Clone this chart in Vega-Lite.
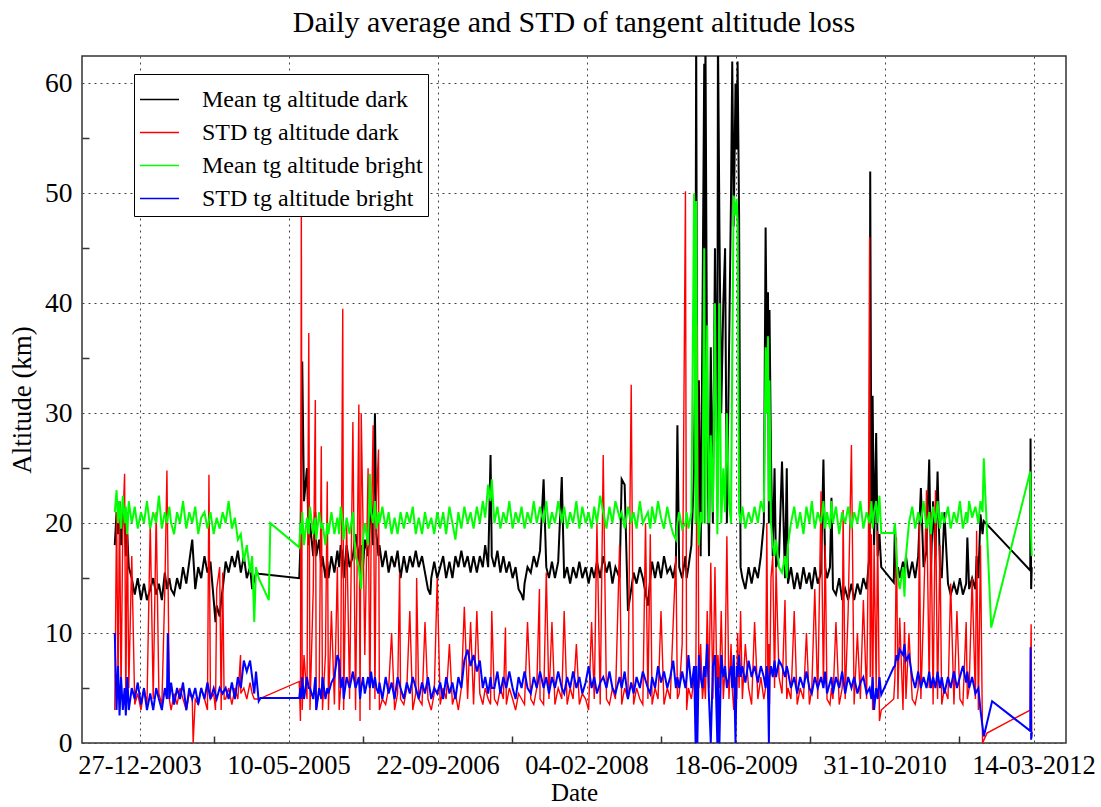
{
"$schema":"https://vega.github.io/schema/vega-lite/v6.json",
"width":984,"height":687,
"autosize":{"type":"none"},
"padding":{"left":82,"top":56,"right":35,"bottom":64},
"background":"white",
"title":{"text":"Daily average and STD of tangent altitude loss","font":"Liberation Serif","fontSize":30,"fontWeight":"normal","color":"#000","anchor":"middle","baseline":"alphabetic","offset":23,"dy":29},
"data":{"values":[
{"d":"2003-10-05","k":18,"r":3,"g":21,"b":10},
{"d":"2003-10-11","k":21,"r":21,"g":23,"b":3},
{"d":"2003-10-16","k":19,"r":5,"g":20,"b":7},
{"d":"2003-10-21","k":22,"r":22,"g":22,"b":2.5},
{"d":"2003-10-26","k":18,"r":4,"g":19.5,"b":6},
{"d":"2003-11-01","k":21,"r":20,"g":22.5,"b":3},
{"d":"2003-11-07","k":20,"r":24.5,"g":20,"b":5},
{"d":"2003-11-11","k":17,"r":3,"g":21.5,"b":2.5},
{"d":"2003-11-16","k":19,"r":21,"g":19,"b":6},
{"d":"2003-11-21","k":16,"r":5,"g":22,"b":3},
{"d":"2003-12-01","k":15,"r":17,"g":20,"b":5},
{"d":"2003-12-11","k":13.5,"r":3.5,"g":21.5,"b":4},
{"d":"2003-12-21","k":15,"r":4.5,"g":19.5,"b":5.5},
{"d":"2004-01-01","k":13,"r":3,"g":21,"b":3.5},
{"d":"2004-01-11","k":14.5,"r":5,"g":20,"b":5},
{"d":"2004-01-21","k":13,"r":3.5,"g":22,"b":3},
{"d":"2004-02-01","k":14,"r":20,"g":19.5,"b":4.5},
{"d":"2004-02-11","k":15,"r":4,"g":21,"b":3},
{"d":"2004-02-21","k":13.5,"r":21,"g":20,"b":5},
{"d":"2004-03-01","k":14.5,"r":4.5,"g":22.5,"b":4},
{"d":"2004-03-11","k":13,"r":3.5,"g":19.5,"b":3},
{"d":"2004-03-21","k":15.5,"r":14,"g":21,"b":5},
{"d":"2004-03-28","k":14,"r":24.8,"g":20,"b":4},
{"d":"2004-03-31","b":10},
{"d":"2004-04-05","k":15,"r":4,"g":21.5,"b":4},
{"d":"2004-04-11","k":14,"r":3,"g":20,"b":5.5},
{"d":"2004-04-21","k":13.5,"r":4.5,"g":19,"b":3.5},
{"d":"2004-05-01","k":15,"r":3.5,"g":21,"b":5},
{"d":"2004-05-11","k":14,"r":5,"g":20,"b":4},
{"d":"2004-05-21","k":16,"r":4,"g":22,"b":5.5},
{"d":"2004-06-01","k":14.5,"r":3,"g":19.5,"b":3},
{"d":"2004-06-11","k":16.5,"r":4.5,"g":21,"b":5},
{"d":"2004-06-21","k":18.5,"r":4,"g":20,"b":4},
{"d":"2004-06-24","r":0},
{"d":"2004-07-01","k":14,"r":4,"g":21.5,"b":5},
{"d":"2004-07-11","k":16,"r":3.5,"g":19,"b":3.5},
{"d":"2004-07-21","k":15,"r":5,"g":20.5,"b":5},
{"d":"2004-08-01","k":17,"r":4,"g":21,"b":4},
{"d":"2004-08-11","k":15.5,"r":3,"g":19.5,"b":5.5},
{"d":"2004-08-16","r":24.4},
{"d":"2004-08-21","k":16.5,"r":4,"g":21,"b":4},
{"d":"2004-09-01","k":13,"r":4.5,"g":19,"b":5},
{"d":"2004-09-07","k":11,"r":3},
{"d":"2004-09-11","k":12.5,"r":14,"g":20.5,"b":4},
{"d":"2004-09-21","k":11.5,"r":16,"g":19.5,"b":5},
{"d":"2004-09-26","k":13,"r":3},
{"d":"2004-10-01","k":14,"r":15.5,"g":21,"b":4.5},
{"d":"2004-10-06","r":4},
{"d":"2004-10-11","k":16.5,"r":4,"g":20,"b":5},
{"d":"2004-10-21","k":15.5,"r":5,"g":22,"b":4},
{"d":"2004-11-01","k":17,"r":3.5,"g":19.5,"b":5.5},
{"d":"2004-11-11","k":16,"r":5,"g":20.5,"b":4},
{"d":"2004-11-21","k":17.5,"r":4,"g":18.5,"b":6},
{"d":"2004-11-30","r":8},
{"d":"2004-12-01","k":15.5,"r":4.5,"g":19,"b":5},
{"d":"2004-12-11","k":17,"r":5,"g":16.5,"b":7.5},
{"d":"2004-12-21","k":15,"r":4,"g":18,"b":6.5},
{"d":"2005-01-01","k":16,"r":5.5,"g":15.5,"b":7.5},
{"d":"2005-01-08","k":14,"r":4.5,"g":17,"b":6},
{"d":"2005-01-15","r":4,"g":11,"b":4.5},
{"d":"2005-01-21","k":15.5,"g":16,"b":6.5},
{"d":"2005-01-30","k":15.4,"r":4,"g":15,"b":3.8},
{"d":"2005-02-05","b":4.1},
{"d":"2005-03-05","g":13},
{"d":"2005-03-10","g":20},
{"d":"2005-06-15","k":15,"r":5.6,"g":17.8,"b":4.1},
{"d":"2005-06-19","k":18,"r":2,"g":20,"b":5},
{"d":"2005-06-22","k":26,"r":49,"g":19,"b":4},
{"d":"2005-06-25","k":34.7,"r":3,"g":21,"b":6},
{"d":"2005-07-01","k":22,"r":8,"g":18,"b":4},
{"d":"2005-07-11","k":25,"r":4,"g":20.5,"b":6},
{"d":"2005-07-17","k":18,"r":37.3,"g":19,"b":5},
{"d":"2005-07-21","k":20,"r":3,"g":21.5,"b":5},
{"d":"2005-08-01","k":17,"r":14,"g":19,"b":4},
{"d":"2005-08-08","k":21,"r":31.2,"g":20.5,"b":6},
{"d":"2005-08-11","k":17,"r":3,"g":18.5,"b":3},
{"d":"2005-08-21","k":18.5,"r":5,"g":21,"b":5},
{"d":"2005-08-28","k":16,"r":27,"g":19.5,"b":4},
{"d":"2005-09-01","k":17,"r":3,"g":20,"b":6},
{"d":"2005-09-11","k":15,"r":8,"g":18,"b":4},
{"d":"2005-09-17","k":16.5,"r":23.8,"g":20,"b":5},
{"d":"2005-09-21","k":15,"r":3,"g":19,"b":4.5},
{"d":"2005-10-01","k":17,"r":12,"g":21,"b":5.5},
{"d":"2005-10-11","k":15.5,"r":3.5,"g":19,"b":6},
{"d":"2005-10-21","k":17.5,"r":16,"g":20.5,"b":8},
{"d":"2005-10-27","k":16,"r":3,"g":19,"b":7.5},
{"d":"2005-11-01","k":18,"r":5,"g":21.5,"b":5},
{"d":"2005-11-08","k":17,"r":39.5,"g":20,"b":6},
{"d":"2005-11-11","k":15,"r":3,"g":18.5,"b":4},
{"d":"2005-11-21","k":18,"r":20,"g":20.5,"b":6},
{"d":"2005-12-01","k":16,"r":4,"g":19,"b":5},
{"d":"2005-12-12","k":17,"r":29.2,"g":21,"b":6.5},
{"d":"2005-12-21","k":19,"r":3,"g":17,"b":5},
{"d":"2006-01-01","k":17,"r":30.8,"g":16,"b":6},
{"d":"2006-01-05","k":16,"r":2,"g":15,"b":4},
{"d":"2006-01-09","k":18,"r":30,"g":14,"b":5},
{"d":"2006-01-15","k":16,"r":20,"g":18.5,"b":6},
{"d":"2006-01-21","k":18.5,"r":8,"g":20,"b":4.5},
{"d":"2006-02-01","k":17,"r":25,"g":18,"b":6},
{"d":"2006-02-07","k":20,"r":3,"g":24.5,"b":5},
{"d":"2006-02-11","k":22,"r":18,"g":21,"b":6.5},
{"d":"2006-02-18","k":18,"r":28.9,"g":20,"b":5},
{"d":"2006-02-24","k":30,"r":4,"g":22,"b":6},
{"d":"2006-03-01","k":19,"r":22,"g":19.5,"b":5},
{"d":"2006-03-08","k":17,"r":26.7,"g":21,"b":4.5},
{"d":"2006-03-11","k":18,"r":3,"g":20,"b":5.5},
{"d":"2006-03-21","k":16,"r":4,"g":21.5,"b":4},
{"d":"2006-04-01","k":17.5,"r":3.5,"g":19.5,"b":6},
{"d":"2006-04-11","k":15.5,"r":5,"g":21,"b":4.5},
{"d":"2006-04-21","k":17,"r":10,"g":19,"b":5.5},
{"d":"2006-05-01","k":16,"r":3,"g":20.5,"b":4},
{"d":"2006-05-11","k":17.5,"r":4.5,"g":19,"b":6},
{"d":"2006-05-18","r":15.5},
{"d":"2006-05-21","k":15,"r":4,"g":21,"b":5},
{"d":"2006-06-01","k":17,"r":3.5,"g":19.5,"b":4},
{"d":"2006-06-11","k":15.5,"r":5,"g":21,"b":5.5},
{"d":"2006-06-21","k":17,"r":12,"g":20,"b":4.5},
{"d":"2006-07-01","k":16,"r":3,"g":21.5,"b":6},
{"d":"2006-07-11","k":17.5,"r":4.5,"g":19,"b":5},
{"d":"2006-07-14","r":15},
{"d":"2006-07-21","k":16,"r":4,"g":20.5,"b":4},
{"d":"2006-08-01","k":17,"r":3.5,"g":19,"b":5.5},
{"d":"2006-08-11","k":15.5,"r":11,"g":21,"b":4.5},
{"d":"2006-08-21","k":14,"r":4,"g":19.5,"b":6},
{"d":"2006-08-29","k":13.5},
{"d":"2006-09-01","k":15,"r":3,"g":20.5,"b":4},
{"d":"2006-09-11","k":16.5,"r":4.5,"g":19,"b":5},
{"d":"2006-09-21","k":15,"r":15,"g":21,"b":4.5},
{"d":"2006-10-01","k":16,"r":3.5,"g":19.5,"b":5.5},
{"d":"2006-10-11","k":17,"r":5,"g":21,"b":4},
{"d":"2006-10-21","k":15,"r":4,"g":19,"b":6},
{"d":"2006-11-01","k":16.5,"r":9,"g":21.5,"b":4.5},
{"d":"2006-11-11","k":15,"r":3.5,"g":20,"b":5.5},
{"d":"2006-11-21","k":17,"r":4.5,"g":18.5,"b":4},
{"d":"2006-12-01","k":16,"r":3,"g":21,"b":6},
{"d":"2006-12-11","k":17.5,"r":5,"g":19.5,"b":5},
{"d":"2006-12-21","k":16,"r":12.4,"g":21.5,"b":7.5},
{"d":"2007-01-01","k":17,"r":4,"g":20,"b":8.5},
{"d":"2007-01-11","k":15.5,"r":11,"g":21,"b":7},
{"d":"2007-01-21","k":17,"r":3.5,"g":19.5,"b":8},
{"d":"2007-02-01","k":15.5,"r":12,"g":21.5,"b":6.5},
{"d":"2007-02-11","k":17,"r":4.5,"g":20,"b":7.5},
{"d":"2007-02-21","k":16,"r":3.5,"g":22,"b":5},
{"d":"2007-03-01","k":18,"r":5,"g":20.5,"b":6},
{"d":"2007-03-11","k":16,"r":4,"g":23.5,"b":4.5},
{"d":"2007-03-19","k":26.2,"r":3.5,"g":22,"b":6},
{"d":"2007-03-23","k":17,"r":12,"g":24,"b":5},
{"d":"2007-04-01","k":16,"r":4,"g":20,"b":5},
{"d":"2007-04-11","k":17.5,"r":3.5,"g":21.5,"b":6.5},
{"d":"2007-04-21","k":15.5,"r":5,"g":19.5,"b":4.5},
{"d":"2007-05-01","k":17,"r":4,"g":21,"b":6},
{"d":"2007-05-08","r":10.5},
{"d":"2007-05-11","k":15.5,"r":3.5,"g":20,"b":5},
{"d":"2007-05-21","k":16.5,"r":5,"g":22,"b":6.5},
{"d":"2007-06-01","k":15,"r":4,"g":19.5,"b":5},
{"d":"2007-06-11","k":16,"r":3,"g":21,"b":4},
{"d":"2007-06-21","k":14,"r":4.5,"g":20,"b":6},
{"d":"2007-07-01","k":13.5,"r":4,"g":21.5,"b":5},
{"d":"2007-07-07","k":13},
{"d":"2007-07-11","k":14.5,"r":3.5,"g":19.5,"b":6.5},
{"d":"2007-07-21","k":16,"r":11,"g":21,"b":5},
{"d":"2007-08-01","k":15.5,"r":4,"g":20,"b":4.5},
{"d":"2007-08-11","k":17,"r":3.5,"g":22,"b":6},
{"d":"2007-08-21","k":16,"r":5,"g":20,"b":5},
{"d":"2007-08-30","r":14},
{"d":"2007-09-01","k":17.5,"r":4,"g":21.5,"b":6.5},
{"d":"2007-09-13","k":24,"r":3.5,"g":20,"b":5},
{"d":"2007-09-22","k":16,"r":15.5,"g":22,"b":6},
{"d":"2007-10-01","k":15,"r":4,"g":19.5,"b":4.5},
{"d":"2007-10-11","k":16.5,"r":11,"g":21,"b":6},
{"d":"2007-10-21","k":15,"r":3.5,"g":20,"b":5},
{"d":"2007-11-01","k":16.5,"r":5,"g":22,"b":6.5},
{"d":"2007-11-13","k":24.2,"r":4,"g":20,"b":5},
{"d":"2007-11-21","k":15,"r":12,"g":21.5,"b":4.5},
{"d":"2007-12-01","k":16,"r":3.5,"g":19.5,"b":6},
{"d":"2007-12-11","k":14.5,"r":5,"g":21,"b":5},
{"d":"2007-12-21","k":16,"r":4,"g":20,"b":6.5},
{"d":"2008-01-01","k":15,"r":9,"g":22,"b":5},
{"d":"2008-01-11","k":16.5,"r":3.5,"g":19.5,"b":6},
{"d":"2008-01-21","k":15,"r":4.5,"g":21.5,"b":4.5},
{"d":"2008-02-01","k":16,"r":4,"g":20,"b":5.5},
{"d":"2008-02-11","k":14.5,"r":3,"g":21,"b":7},
{"d":"2008-02-21","k":16,"r":11,"g":19.5,"b":5},
{"d":"2008-03-01","k":15,"r":4,"g":21.5,"b":6},
{"d":"2008-03-10","k":16.5,"r":20,"g":20,"b":4.5},
{"d":"2008-03-21","k":15,"r":3.5,"g":22.5,"b":5.5},
{"d":"2008-03-31","k":17,"r":26.2,"g":21,"b":6},
{"d":"2008-04-11","k":15.5,"r":4,"g":19.5,"b":5},
{"d":"2008-04-21","k":16.5,"r":3.5,"g":21.5,"b":6.5},
{"d":"2008-05-01","k":14.5,"r":5,"g":20,"b":5},
{"d":"2008-05-11","k":16,"r":4,"g":22,"b":4.5},
{"d":"2008-05-25","k":15,"r":18,"g":20.5,"b":6},
{"d":"2008-06-01","k":24,"r":3.5,"g":21,"b":5},
{"d":"2008-06-11","k":23.5,"r":5,"g":19.5,"b":6.5},
{"d":"2008-06-22","k":12,"r":4,"g":21.5,"b":4},
{"d":"2008-07-03","k":14,"r":32.6,"g":20,"b":5.5},
{"d":"2008-07-11","k":15.5,"r":3.5,"g":21,"b":4.5},
{"d":"2008-07-21","k":14.5,"r":5,"g":19.5,"b":6},
{"d":"2008-08-01","k":16,"r":4,"g":22,"b":5},
{"d":"2008-08-11","k":15,"r":3.5,"g":20,"b":6.5},
{"d":"2008-08-20","r":20},
{"d":"2008-08-28","k":12.5,"r":4,"g":21,"b":5},
{"d":"2008-09-05","k":15,"r":19,"g":19.5,"b":4.5},
{"d":"2008-09-11","k":16.5,"r":3.5,"g":21.5,"b":6},
{"d":"2008-09-21","k":15,"r":5,"g":20,"b":5},
{"d":"2008-10-01","k":16.5,"r":4,"g":22,"b":7},
{"d":"2008-10-11","k":15,"r":12,"g":20.5,"b":5.5},
{"d":"2008-10-21","k":17,"r":3.5,"g":19.5,"b":6.5},
{"d":"2008-11-01","k":15.5,"r":5,"g":21.5,"b":5},
{"d":"2008-11-11","k":16,"r":4,"g":20,"b":6},
{"d":"2008-11-21","k":15,"r":11,"g":19,"b":7.5},
{"d":"2008-11-30","k":16.5,"r":17,"g":18.5,"b":5},
{"d":"2008-12-05","k":28.9,"r":4,"g":20,"b":6},
{"d":"2008-12-11","k":16,"r":4.5,"g":21,"b":5},
{"d":"2008-12-21","k":15,"r":9,"g":19.5,"b":6.5},
{"d":"2009-01-01","k":17,"r":50.2,"g":20,"b":5},
{"d":"2009-01-05","k":15,"r":3,"g":21,"b":6},
{"d":"2009-01-11","k":16,"r":5,"g":19.5,"b":8},
{"d":"2009-01-21","k":18,"r":4,"g":21,"b":5},
{"d":"2009-01-30","k":25,"r":6,"g":50,"b":7},
{"d":"2009-02-04","k":40,"r":3,"g":20,"b":0},
{"d":"2009-02-06","k":65,"r":12,"g":49.3,"b":7},
{"d":"2009-02-10","k":20,"r":38,"g":22,"b":0},
{"d":"2009-02-15","k":33,"r":5,"g":18,"b":8},
{"d":"2009-02-21","k":17,"r":9,"g":21,"b":6},
{"d":"2009-02-27","k":38,"r":4,"g":20,"b":5},
{"d":"2009-03-05","k":61.8,"r":6,"g":45,"b":7},
{"d":"2009-03-07","k":20},
{"d":"2009-03-09","k":65,"r":4,"g":20,"b":6},
{"d":"2009-03-15","k":30,"r":12,"g":38,"b":9},
{"d":"2009-03-21","k":17,"r":5,"g":20,"b":4},
{"d":"2009-03-27","k":36,"r":16.4,"g":28,"b":0},
{"d":"2009-04-03","k":20,"r":4,"g":21,"b":7},
{"d":"2009-04-10","k":45,"r":16,"g":40,"b":8},
{"d":"2009-04-18","k":25,"r":3,"g":19,"b":0},
{"d":"2009-04-20","k":65,"r":8,"g":22,"b":6},
{"d":"2009-04-25","k":47,"r":5,"g":40,"b":0},
{"d":"2009-05-01","k":30,"r":12,"g":20,"b":8},
{"d":"2009-05-08","k":40,"r":4,"g":25,"b":6},
{"d":"2009-05-14","k":45,"r":7,"g":21,"b":7},
{"d":"2009-05-20","k":20,"r":18.8,"g":30,"b":5},
{"d":"2009-05-27","k":35,"r":4,"g":22,"b":6},
{"d":"2009-06-03","k":50,"r":9,"g":20,"b":7},
{"d":"2009-06-07","k":62,"r":5,"g":35,"b":5},
{"d":"2009-06-12","k":47,"r":3,"g":49.8,"b":8},
{"d":"2009-06-18","k":60,"r":6,"g":48,"b":0},
{"d":"2009-06-22","k":54,"r":4,"g":49.5,"b":7},
{"d":"2009-06-25","k":62,"r":10,"g":47,"b":6},
{"d":"2009-06-30","k":48,"r":5,"g":21,"b":8},
{"d":"2009-07-05","k":16,"r":12,"g":20,"b":6},
{"d":"2009-07-11","k":15,"r":4,"g":21.5,"b":7},
{"d":"2009-07-21","k":14,"r":9,"g":19.5,"b":5.5},
{"d":"2009-08-01","k":16,"r":5,"g":21,"b":7.5},
{"d":"2009-08-11","k":14.5,"r":3.5,"g":20,"b":6},
{"d":"2009-08-21","k":16,"r":11,"g":21.5,"b":7},
{"d":"2009-09-01","k":15,"r":4,"g":20,"b":5.5},
{"d":"2009-09-11","k":17,"r":6,"g":22,"b":7},
{"d":"2009-09-21","k":20,"r":4,"g":21,"b":6},
{"d":"2009-09-27","k":46.9,"r":5,"g":36,"b":5},
{"d":"2009-10-01","k":35,"r":20,"g":30,"b":7},
{"d":"2009-10-05","k":41,"r":4,"g":37,"b":5},
{"d":"2009-10-08","k":20,"r":9,"g":22,"b":0},
{"d":"2009-10-10","k":39.4,"r":3.5,"g":33,"b":6},
{"d":"2009-10-15","k":26,"r":15,"g":20,"b":7},
{"d":"2009-10-21","k":17,"r":17,"g":18,"b":6},
{"d":"2009-10-27","k":25,"r":5,"g":17,"b":7.5},
{"d":"2009-11-01","k":16,"r":16,"g":18.5,"b":6},
{"d":"2009-11-11","k":17,"r":6,"g":16,"b":7.5},
{"d":"2009-11-21","k":25.6,"r":4.5,"g":15.5,"b":7},
{"d":"2009-12-01","k":15,"r":13,"g":17,"b":6},
{"d":"2009-12-07","k":25,"r":4,"g":15,"b":7},
{"d":"2009-12-11","k":14.5,"r":5,"g":18,"b":6.5},
{"d":"2009-12-21","k":16,"r":4,"g":20,"b":5},
{"d":"2010-01-01","k":14,"r":12,"g":21.5,"b":6},
{"d":"2010-01-11","k":15.5,"r":3.5,"g":19.5,"b":4.5},
{"d":"2010-01-21","k":14,"r":5,"g":21,"b":6},
{"d":"2010-02-01","k":16,"r":4,"g":19,"b":5},
{"d":"2010-02-11","k":14.5,"r":10,"g":21.5,"b":6.5},
{"d":"2010-02-21","k":15.5,"r":3.5,"g":20,"b":5},
{"d":"2010-03-01","k":14,"r":5,"g":22,"b":4.5},
{"d":"2010-03-11","k":16,"r":14,"g":19.5,"b":6},
{"d":"2010-03-21","k":14.5,"r":4,"g":21,"b":5},
{"d":"2010-04-01","k":15.5,"r":22.9,"g":20,"b":6},
{"d":"2010-04-09","k":25.8,"r":5,"g":22,"b":5},
{"d":"2010-04-15","k":16,"r":18,"g":19.5,"b":6.5},
{"d":"2010-04-21","k":15,"r":4,"g":21,"b":4.5},
{"d":"2010-05-01","k":16,"r":3.5,"g":19.5,"b":5.5},
{"d":"2010-05-06","k":22.3,"r":5,"g":22,"b":6},
{"d":"2010-05-11","k":14,"r":4,"g":20,"b":4.5},
{"d":"2010-05-21","k":13.5,"r":11,"g":21.5,"b":6},
{"d":"2010-06-01","k":15,"r":3.5,"g":19,"b":5},
{"d":"2010-06-11","k":13,"r":5,"g":21,"b":6.5},
{"d":"2010-06-14","r":21.2},
{"d":"2010-06-21","k":14,"r":4,"g":20,"b":4.5},
{"d":"2010-07-01","k":13,"r":12,"g":21.5,"b":6},
{"d":"2010-07-12","k":14.5,"r":27.1,"g":19.5,"b":5},
{"d":"2010-07-21","k":13,"r":3.5,"g":21,"b":6},
{"d":"2010-08-01","k":14.5,"r":10,"g":20,"b":4.5},
{"d":"2010-08-11","k":13.5,"r":4,"g":22,"b":5.5},
{"d":"2010-08-21","k":15,"r":13,"g":19.5,"b":6},
{"d":"2010-09-01","k":14,"r":4,"g":21,"b":4.5},
{"d":"2010-09-07","k":16,"r":18},
{"d":"2010-09-11","k":17,"r":46,"g":20,"b":5},
{"d":"2010-09-13","k":52,"r":6},
{"d":"2010-09-17","k":20,"r":19,"g":22,"b":4},
{"d":"2010-09-21","k":31.6,"r":3,"g":19.5,"b":6},
{"d":"2010-09-26","k":18,"r":18,"g":21,"b":3},
{"d":"2010-10-03","k":28.2,"r":5,"g":22,"b":5},
{"d":"2010-10-08","k":17,"r":19.3,"g":20,"b":4},
{"d":"2010-10-14","k":19,"r":2,"g":22.5,"b":6},
{"d":"2010-10-20","k":16,"r":3,"g":19.1,"b":4.4},
{"d":"2010-12-01","k":14.6,"r":4,"g":19.1,"b":6.9},
{"d":"2010-12-05","k":19.9,"r":6,"g":20,"b":7},
{"d":"2010-12-10","k":15,"r":18.7,"g":17,"b":8},
{"d":"2010-12-15","k":16,"r":4,"g":15,"b":7.5},
{"d":"2010-12-21","k":15,"r":11.4,"g":14,"b":8.5},
{"d":"2011-01-01","k":16.5,"r":3,"g":16,"b":8},
{"d":"2011-01-06","k":15,"r":11,"g":13.3,"b":9},
{"d":"2011-01-11","k":17,"r":4,"g":17,"b":7.5},
{"d":"2011-01-21","k":15,"r":10,"g":20,"b":8},
{"d":"2011-02-01","k":16.5,"r":4,"g":21.5,"b":6},
{"d":"2011-02-11","k":15,"r":3.5,"g":19.5,"b":5},
{"d":"2011-02-21","k":17,"r":5,"g":21,"b":6.5},
{"d":"2011-02-25","r":19.9},
{"d":"2011-03-02","k":23.2,"r":4,"g":20,"b":5},
{"d":"2011-03-11","k":16,"r":12,"g":22,"b":6},
{"d":"2011-03-21","k":17.5,"r":23,"g":19.5,"b":5},
{"d":"2011-03-30","k":25.8,"r":5,"g":21,"b":6.5},
{"d":"2011-04-05","k":16,"r":21,"g":19,"b":5},
{"d":"2011-04-12","k":22,"r":3.5,"g":21.5,"b":6},
{"d":"2011-04-20","k":17,"r":23,"g":20,"b":5},
{"d":"2011-04-27","k":24.7,"r":4,"g":22,"b":6.5},
{"d":"2011-05-05","k":16,"r":18,"g":19.5,"b":5},
{"d":"2011-05-11","k":15,"r":3.5,"g":21,"b":6},
{"d":"2011-05-20","k":21,"r":5,"g":20,"b":4.5},
{"d":"2011-06-01","k":14.5,"r":4,"g":21.5,"b":6},
{"d":"2011-06-10","k":13.5,"r":14.5,"g":19.5,"b":5},
{"d":"2011-06-21","k":14.5,"r":3.5,"g":21,"b":6.5},
{"d":"2011-07-01","k":13.5,"r":12,"g":20,"b":5},
{"d":"2011-07-11","k":15,"r":4,"g":22,"b":6},
{"d":"2011-07-21","k":13.5,"r":3.5,"g":19.5,"b":7},
{"d":"2011-08-01","k":14.5,"r":11,"g":21,"b":5.5},
{"d":"2011-08-05","k":18.7,"r":4,"g":20,"b":6.5},
{"d":"2011-08-11","k":14,"r":5,"g":22,"b":5},
{"d":"2011-08-21","k":15,"r":15,"g":20.5,"b":6},
{"d":"2011-09-01","k":14,"r":4,"g":21.5,"b":4.5},
{"d":"2011-09-05","k":17,"r":19.3},
{"d":"2011-09-11","k":15,"r":3,"g":20,"b":5},
{"d":"2011-09-18","k":20.8,"r":18,"g":22,"b":3},
{"d":"2011-09-25","k":19,"r":0,"g":21,"b":1.5},
{"d":"2011-09-29","k":20.2,"g":25.9,"b":0.6},
{"d":"2011-10-10","r":0.9},
{"d":"2011-10-24","g":10.5},
{"d":"2011-10-27","b":3.8},
{"d":"2012-03-03","k":15.7,"r":3,"g":24.7,"b":1.1},
{"d":"2012-03-04","k":27.7,"r":6,"g":23,"b":8.7},
{"d":"2012-03-06","k":14,"r":10.8,"g":18.7,"b":0.3},
{"d":"2012-03-08","k":16,"r":0.5,"g":17,"b":1}
]},
"encoding":{
 "x":{"field":"d","type":"temporal","title":"Date",
  "scale":{"type":"utc","domain":[{"year":2003,"month":6,"date":17,"utc":true},{"year":2012,"month":7,"date":1,"utc":true}]},
  "axis":{
   "values":[{"year":2003,"month":12,"date":27,"utc":true},{"year":2004,"month":9,"date":2,"utc":true},{"year":2005,"month":5,"date":10,"utc":true},{"year":2006,"month":1,"date":15,"utc":true},{"year":2006,"month":9,"date":22,"utc":true},{"year":2007,"month":5,"date":30,"utc":true},{"year":2008,"month":2,"date":4,"utc":true},{"year":2008,"month":10,"date":11,"utc":true},{"year":2009,"month":6,"date":18,"utc":true},{"year":2010,"month":2,"date":23,"utc":true},{"year":2010,"month":10,"date":31,"utc":true},{"year":2011,"month":7,"date":8,"utc":true},{"year":2012,"month":3,"date":14,"utc":true}],
   "labelExpr":"indexof([27,10,22,4,18,31,14], utcdate(datum.value)) >= 0 ? utcFormat(datum.value, '%d-%m-%Y') : ''",
   "grid":true,
   "gridOpacity":{"condition":{"test":"indexof([27,10,22,4,18,31,14], utcdate(datum.value)) >= 0","value":1},"value":0},
   "tickOpacity":{"condition":{"test":"indexof([27,10,22,4,18,31,14], utcdate(datum.value)) >= 0","value":0},"value":1},
   "tickSize":-7,"labelPadding":16,"labelFontSize":26.5,"labelOverlap":false,"labelFlush":false,"labelBound":false,"titlePadding":2,"titleFontSize":25
  }}
},
"layer":[
 {"mark":{"type":"line","strokeWidth":2,"clip":true,"invalid":"filter"},
  "encoding":{
   "y":{"field":"k","type":"quantitative","title":"Altitude (km)","scale":{"domain":[0,62.5],"nice":false,"zero":false},
    "axis":{"values":[0,5,10,15,20,25,30,35,40,45,50,55,60],"labelExpr":"datum.value % 10 === 0 ? datum.label : ''","grid":true,
     "gridOpacity":{"condition":{"test":"datum.value % 10 === 0","value":1},"value":0},
     "tickOpacity":{"condition":{"test":"datum.value % 10 === 0","value":0},"value":1},
     "tickSize":-7,"labelPadding":17,"titlePadding":8}},
   "color":{"datum":"Mean tg altitude dark","type":"nominal",
    "scale":{"domain":["Mean tg altitude dark","STD tg altitude dark","Mean tg altitude bright","STD tg altitude bright"],"range":["#000000","#ff0000","#00ff00","#0000ff"]},
    "legend":{"title":null,"orient":"none","legendX":52,"legendY":18,"direction":"vertical","symbolType":"stroke","symbolSize":1521,"symbolStrokeWidth":1.5,"labelFont":"Liberation Serif","labelFontSize":24,"labelColor":"#000","labelOffset":22,"labelLimit":0,"padding":5,"rowPadding":0,"strokeColor":"#000","fillColor":"#fff"}}
  }},
 {"mark":{"type":"line","strokeWidth":1.4,"clip":true,"invalid":"filter"},
  "encoding":{
   "y":{"field":"r","type":"quantitative","title":"Altitude (km)","scale":{"domain":[0,62.5],"nice":false,"zero":false}},
   "color":{"datum":"STD tg altitude dark","type":"nominal"}
  }},
 {"mark":{"type":"line","strokeWidth":2,"clip":true,"invalid":"filter"},
  "encoding":{
   "y":{"field":"g","type":"quantitative","title":"Altitude (km)","scale":{"domain":[0,62.5],"nice":false,"zero":false}},
   "color":{"datum":"Mean tg altitude bright","type":"nominal"}
  }},
 {"mark":{"type":"line","strokeWidth":2,"clip":true,"invalid":"filter"},
  "encoding":{
   "y":{"field":"b","type":"quantitative","title":"Altitude (km)","scale":{"domain":[0,62.5],"nice":false,"zero":false}},
   "color":{"datum":"STD tg altitude bright","type":"nominal"}
  }}
],
"config":{
 "font":"Liberation Serif",
 "view":{"stroke":"#333","strokeWidth":1.5},
 "axis":{"domain":false,"labelFont":"Liberation Serif","labelFontSize":27.5,"labelColor":"#000","titleFont":"Liberation Serif","titleFontSize":27,"titleFontWeight":"normal","titleColor":"#000","gridColor":"#444","gridDash":[2,4],"gridWidth":1,"tickColor":"#333","tickWidth":1.5}
}
}
